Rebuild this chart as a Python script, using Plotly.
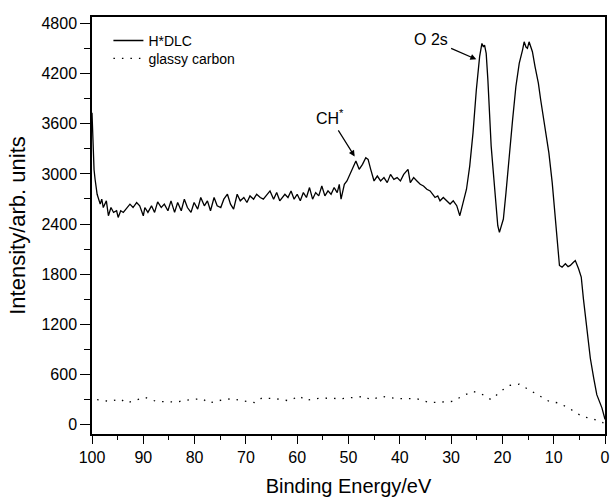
import plotly.graph_objects as go

# H*DLC spectrum (binding energy eV, intensity)
hdlc_x = [100.0, 99.8, 99.6, 99.4, 99.0, 98.4, 98.1, 97.8, 97.2, 96.8, 96.3, 95.8, 95.2, 94.9, 94.4,
          93.9, 93.3, 92.6, 92.0, 91.3, 90.7, 90.0, 89.7, 89.1, 88.4, 87.8, 87.2, 86.5, 85.9, 85.2,
          84.6, 83.9, 83.3, 82.6, 82.0, 81.4, 80.7, 80.1, 79.4, 78.8, 78.1, 77.5, 76.9, 76.2, 75.6,
          74.9, 74.3, 73.6, 73.0, 72.4, 71.7, 71.1, 70.4, 69.8, 69.2, 68.5, 67.9, 67.2, 66.6, 65.9,
          65.3, 64.6, 64.0, 63.4, 62.4, 61.8, 61.2, 60.6, 60.0, 59.4, 58.8, 58.2, 57.6, 57.0, 56.4,
          55.8, 55.2, 54.6, 54.0, 53.4, 52.8, 52.2, 51.8, 51.45, 50.81, 50.3, 49.85, 49.2, 48.56, 47.92,
          47.27, 46.63, 46.18, 45.67, 45.02, 44.38, 43.74, 43.09, 42.45, 41.81, 41.16, 40.52, 39.88, 39.24,
          38.4, 37.95, 37.3, 36.66, 36.02, 35.38, 34.73, 34.09, 33.58, 33.13, 32.6, 32.16, 31.52, 30.88,
          30.2, 29.58, 28.9, 28.3, 27.65, 27.0, 26.37, 25.73, 25.08, 24.44, 23.99, 23.7, 23.48, 23.16,
          22.83, 22.51, 22.19, 21.87, 21.35, 20.9, 20.58, 20.26, 19.81, 19.3, 18.65, 18.01, 17.37, 16.72,
          16.08, 15.76, 15.4, 15.12, 14.8, 14.45, 14.15, 13.64, 12.99, 12.54, 12.03, 11.58, 10.94, 10.29,
          9.78, 9.33, 8.88, 8.37, 7.72, 7.2, 6.76, 6.2, 5.79, 5.15, 4.63, 4.2, 3.6, 2.86, 2.2, 1.6, 0.6, 0.0]
hdlc_y = [3734, 3350, 3050, 2936, 2757, 2638, 2698, 2598, 2678, 2499, 2598, 2539, 2559, 2479, 2559,
          2539, 2579, 2638, 2598, 2658, 2618, 2499, 2598, 2539, 2618, 2539, 2666, 2598, 2638, 2559,
          2678, 2539, 2658, 2559, 2698, 2598, 2539, 2658, 2579, 2718, 2618, 2678, 2559, 2718, 2618,
          2598, 2698, 2757, 2638, 2579, 2757, 2678, 2718, 2658, 2737, 2698, 2757, 2718, 2698, 2757,
          2797, 2698, 2777, 2678, 2757, 2718, 2797, 2698, 2757, 2678, 2777, 2718, 2837, 2698, 2777,
          2737, 2856, 2737, 2797, 2757, 2837, 2777, 2876, 2698, 2876, 2916, 2975, 3055, 3154, 3055,
          3115, 3194, 3174, 3055, 2916, 2975, 2916, 2956, 2896, 2995, 2936, 2956, 2916, 2995,
          3055, 2896, 2956, 2916, 2876, 2856, 2817, 2797, 2757, 2718, 2737, 2678, 2718, 2678,
          2640, 2678, 2620, 2500, 2678, 2817, 3094, 3492, 4008, 4405, 4563, 4520, 4544, 4444,
          4127, 3690, 3333, 3094, 2698, 2380, 2300, 2360, 2460, 2777, 3253, 3650, 4048, 4325,
          4484, 4583, 4520, 4504, 4583, 4500, 4464, 4286, 4087, 3889, 3690, 3531, 3253, 2896,
          2539, 2142, 1904, 1884, 1924, 1890, 1904, 1940, 1963, 1864, 1765, 1500, 1150, 792, 554, 356, 198, 60]

# glassy carbon spectrum
gc_x = [99.0, 96.5, 94.5, 93.2, 89.7, 87.5, 83.6, 81.0, 78.5, 77.2, 74.7, 72.7, 70.8, 68.2, 66.9,
        64.3, 61.7, 59.5, 58.5, 55.4, 51.5, 46.9, 45.7, 43.4, 40.5, 36.7, 34.1, 29.6, 27.6, 25.7,
        23.8, 22.2, 19.9, 18.7, 16.7, 14.8, 12.9, 10.9, 9.0, 7.1, 4.5, 2.0, 0.3]
gc_y = [296, 276, 304, 256, 324, 276, 268, 296, 308, 256, 292, 308, 284, 260, 316,
        308, 284, 339, 288, 316, 308, 335, 296, 335, 308, 308, 260, 276, 347, 395,
        355, 296, 415, 466, 482, 415, 355, 276, 256, 197, 97, 58, 18]

x_ticks = [100, 90, 80, 70, 60, 50, 40, 30, 20, 10, 0]
y_ticks = [0, 600, 1200, 1800, 2400, 3000, 3600, 4200, 4800]

FONT = "Liberation Sans, Arial, sans-serif"

fig = go.Figure()
fig.add_trace(go.Scatter(x=hdlc_x, y=hdlc_y, mode="lines", name="H*DLC", legend="legend",
                         line=dict(color="black", width=1.3)))
fig.add_trace(go.Scatter(x=gc_x, y=gc_y, mode="lines", name="glassy carbon", legend="legend2",
                         line=dict(color="black", width=1.3, dash="1.5px,7px")))

legend_common = dict(xanchor="left", yanchor="top", bgcolor="rgba(0,0,0,0)",
                     font=dict(size=14, family=FONT), itemwidth=30)

fig.update_layout(
    width=611, height=497,
    margin=dict(l=92, r=1, t=17, b=61),
    paper_bgcolor="white", plot_bgcolor="white",
    font=dict(family=FONT, color="black", size=16),
    showlegend=True,
    legend=dict(x=0.032, y=0.981, **legend_common),
    legend2=dict(x=0.032, y=0.938, **legend_common),
    xaxis=dict(range=[100, 0], tickmode="array", tickvals=x_ticks,
               ticktext=[str(v) for v in x_ticks], ticklabeloverflow="allow",
               showgrid=False, zeroline=False, showline=True, linecolor="black",
               linewidth=1.5, mirror=True, ticks="outside", ticklen=8, tickwidth=1.3,
               tickcolor="black", tickfont=dict(size=16),
               minor=dict(dtick=5, ticks="outside", ticklen=4, tickwidth=1.3, tickcolor="black"),
               title=dict(text="Binding Energy/eV", font=dict(size=20), standoff=16)),
    yaxis=dict(range=[-115, 4880], tickmode="array", tickvals=y_ticks,
               ticktext=[str(v) for v in y_ticks],
               showgrid=False, zeroline=False, showline=True, linecolor="black",
               linewidth=1.5, mirror=True, ticks="outside", ticklen=10, tickwidth=1.3,
               tickcolor="black", tickfont=dict(size=16),
               minor=dict(dtick=300, ticks="outside", ticklen=6, tickwidth=1.3, tickcolor="black"),
               title=dict(text="Intensity/arb. units", font=dict(size=22), standoff=10)),
)

# labels with arrows (text sits at the arrow tail)
fig.add_annotation(x=25.08, y=4373, ax=33.96, ay=4610, axref="x", ayref="y",
                   text="O 2s", showarrow=True, arrowhead=2, arrowsize=1, arrowwidth=1.2,
                   arrowcolor="black", standoff=0, startstandoff=2,
                   font=dict(size=16, family=FONT))
fig.add_annotation(x=48.8, y=3210, ax=53.6, ay=3680, axref="x", ayref="y",
                   text="CH<sup>*</sup>", showarrow=True, arrowhead=2, arrowsize=1, arrowwidth=1.2,
                   arrowcolor="black", standoff=0, startstandoff=2,
                   font=dict(size=16, family=FONT))

fig.write_html("out.html")
